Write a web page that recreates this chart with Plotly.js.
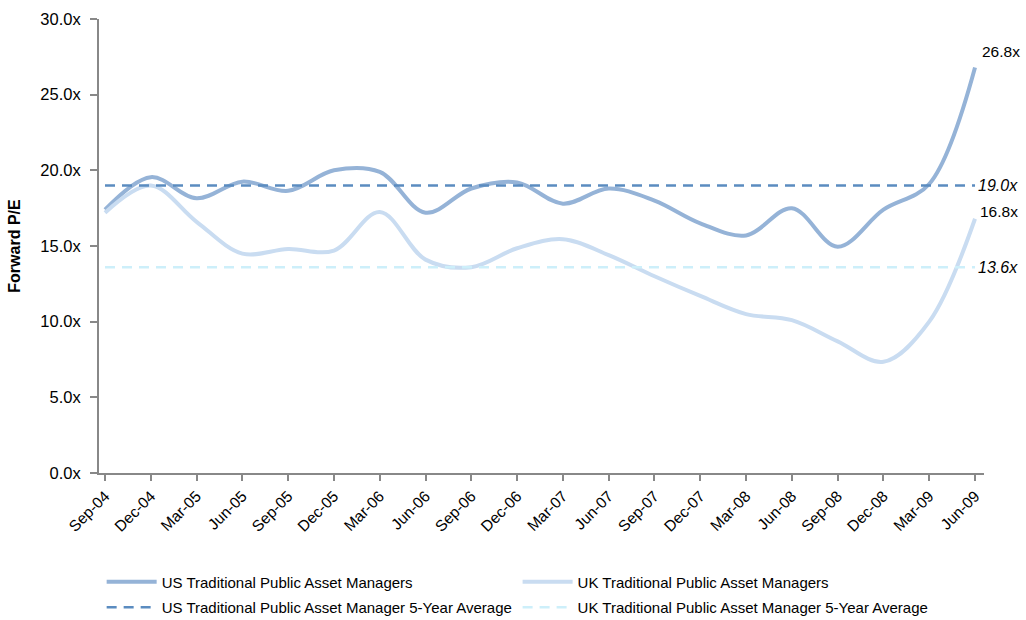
<!DOCTYPE html>
<html>
<head>
<meta charset="utf-8">
<script src="https://cdn.plot.ly/plotly-3.0.1.min.js"></script>
<style>
html,body{margin:0;padding:0;background:#fff;}
#chart{width:1026px;height:620px;}
</style>
</head>
<body>
<div id="chart"></div>
<script>
// Quarterly observation labels
const quarters = ['Sep-04','Dec-04','Mar-05','Jun-05','Sep-05','Dec-05','Mar-06','Jun-06','Sep-06','Dec-06',
                  'Mar-07','Jun-07','Sep-07','Dec-07','Mar-08','Jun-08','Sep-08','Dec-08','Mar-09','Jun-09'];
// Forward P/E values
const usValues = [17.4, 19.55, 18.15, 19.25, 18.65, 20.0, 19.9, 17.2, 18.8, 19.2,
                  17.8, 18.8, 18.0, 16.5, 15.7, 17.5, 14.95, 17.4, 19.1, 26.8];
const ukValues = [17.2, 19.0, 16.6, 14.5, 14.8, 14.7, 17.25, 14.1, 13.6, 14.85,
                  15.45, 14.4, 13.0, 11.7, 10.5, 10.1, 8.7, 7.35, 10.0, 16.8];
// 5-year averages
const usAverage = 19.0;
const ukAverage = 13.6;
const yTicks = [0, 5, 10, 15, 20, 25, 30];

const seriesNames = ['US Traditional Public Asset Managers', 'UK Traditional Public Asset Managers',
                     'US Traditional Public Asset Manager 5-Year Average', 'UK Traditional Public Asset Manager 5-Year Average'];

const idx = quarters.map((q, i) => i);
const FONT = 'Liberation Sans, Arial, sans-serif';

const traces = [
  {x: idx, y: usValues, name: seriesNames[0], type: 'scatter', mode: 'lines', legend: 'legend', legendgroup: 'a',
   line: {color: '#95B3D7', width: 4, shape: 'spline', smoothing: 1}},
  {x: idx, y: ukValues, name: seriesNames[1], type: 'scatter', mode: 'lines', legend: 'legend2', legendgroup: 'b',
   line: {color: '#C9DCF1', width: 4, shape: 'spline', smoothing: 1}},
  {x: idx, y: idx.map(() => usAverage), name: seriesNames[2], type: 'scatter', mode: 'lines', legend: 'legend', legendgroup: 'c',
   line: {color: '#5B8CC0', width: 2.5, dash: '10px,7px'}},
  {x: idx, y: idx.map(() => ukAverage), name: seriesNames[3], type: 'scatter', mode: 'lines', legend: 'legend2', legendgroup: 'd',
   line: {color: '#CDEFFA', width: 2.5, dash: '10px,7px'}}
];

const legendCommon = {orientation: 'v', xref: 'paper', yref: 'container', y: 0.088, yanchor: 'top', xanchor: 'left',
  itemwidth: 50, traceorder: 'grouped', tracegroupgap: 3, bgcolor: 'rgba(0,0,0,0)',
  font: {family: FONT, size: 15, color: '#000'}};

const last = quarters.length - 1;
const layout = {
  width: 1026, height: 620,
  margin: {l: 99, r: 42, t: 19, b: 147},
  paper_bgcolor: '#ffffff', plot_bgcolor: '#ffffff',
  font: {family: FONT, size: 16, color: '#000'},
  showlegend: true,
  legend: Object.assign({}, legendCommon, {x: 0.003}),
  legend2: Object.assign({}, legendCommon, {x: 0.473}),
  xaxis: {range: [-0.131, 19.196], tickmode: 'array', tickvals: idx, ticktext: quarters,
          tickangle: -45, ticks: 'outside', ticklen: 6, tickwidth: 2, tickcolor: '#888',
          showline: true, linecolor: '#888', linewidth: 2, showgrid: false, zeroline: false,
          automargin: false,
          tickfont: {family: FONT, size: 15.5, color: '#000'}},
  yaxis: {range: [0, 30], tickmode: 'array', tickvals: yTicks, ticktext: yTicks.map(v => v.toFixed(1) + 'x'),
          ticks: 'outside', ticklen: 7, tickwidth: 2, tickcolor: '#888', ticklabelstandoff: 6,
          showline: true, linecolor: '#888', linewidth: 2, showgrid: false, zeroline: false,
          automargin: false,
          tickfont: {family: FONT, size: 16.5, color: '#000'},
          title: {text: '<b>Forward P/E</b>', standoff: 16, font: {family: FONT, size: 16, color: '#000'}}},
  annotations: [
    {x: last, y: usValues[last], xref: 'x', yref: 'y', text: usValues[last].toFixed(1) + 'x',
     showarrow: false, xanchor: 'left', yanchor: 'middle', xshift: 5, yshift: 16,
     font: {family: FONT, size: 15.5, color: '#000'}},
    {x: last, y: ukValues[last], xref: 'x', yref: 'y', text: ukValues[last].toFixed(1) + 'x',
     showarrow: false, xanchor: 'left', yanchor: 'middle', xshift: 3, yshift: 7,
     font: {family: FONT, size: 15.5, color: '#000'}},
    {x: last, y: usAverage, xref: 'x', yref: 'y', text: '<i>' + usAverage.toFixed(1) + 'x</i>',
     showarrow: false, xanchor: 'left', yanchor: 'middle', xshift: 1,
     font: {family: FONT, size: 16, color: '#000'}},
    {x: last, y: ukAverage, xref: 'x', yref: 'y', text: '<i>' + ukAverage.toFixed(1) + 'x</i>',
     showarrow: false, xanchor: 'left', yanchor: 'middle', xshift: 1,
     font: {family: FONT, size: 16, color: '#000'}}
  ]
};

Plotly.newPlot('chart', traces, layout, {staticPlot: true, displayModeBar: false});
</script>
</body>
</html>
